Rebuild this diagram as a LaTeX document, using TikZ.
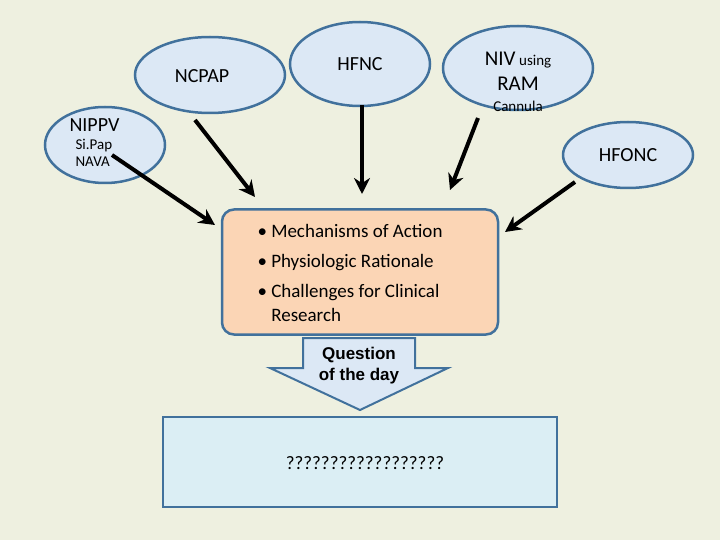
\documentclass[tikz,border=0pt]{standalone}
\usepackage{fontspec}
\setmainfont{Carlito}
\newfontfamily\arialf{Liberation Sans}
\usetikzlibrary{shapes.geometric,arrows.meta}
\definecolor{bg}{HTML}{EEF0E0}
\definecolor{ell}{HTML}{DCE8F5}
\definecolor{bord}{HTML}{41719C}
\definecolor{peach}{HTML}{FBD5B5}
\definecolor{lb}{HTML}{DBEEF4}
\begin{document}
\begin{tikzpicture}[x=1pt,y=-1pt,
 el/.style={ellipse,draw=bord,fill=ell,line width=2.5pt,inner sep=0pt},
 arr/.style={line width=4pt,-{Stealth[length=16pt,width=16pt]}},
 txt/.style={font=\fontsize{20}{22}\selectfont}]
\fill[bg] (0,0) rectangle (720,540);
\useasboundingbox (0,0) rectangle (720,540);
\node[el,minimum width=150,minimum height=76] (ncpap) at (210,75) {};
\node[txt] at (202,76) {NCPAP};
\node[el,minimum width=140,minimum height=84] (hfnc) at (360,64) {};
\node[txt] at (360,64) {HFNC};
\node[el,minimum width=150,minimum height=84] (niv) at (518,68) {};
\node[font=\fontsize{16}{18}\selectfont] at (518,60) {{\fontsize{21}{22}\selectfont NIV} {\fontsize{15}{16}\selectfont using}};
\node[font=\fontsize{21}{22}\selectfont] at (518,84) {RAM};
\node[font=\fontsize{15}{16}\selectfont] at (518,106) {Cannula};
\node[el,minimum width=120,minimum height=76] (nippv) at (105,145) {};
\node[txt,anchor=west] at (66,125) {NIPPV};
\node[font=\fontsize{15}{17}\selectfont,anchor=west,align=left] at (72,153) {Si.Pap\\NAVA};
\node[el,minimum width=130,minimum height=66] (hfonc) at (628,155) {};
\node[txt] at (628,155) {HFONC};
\node[draw=bord,fill=peach,line width=2.5pt,rounded corners=12pt,minimum width=276,minimum height=125] (box) at (360,272) {};
\node[font=\fontsize{19}{24}\selectfont,anchor=west,align=left] at (254,273) {\textbullet\ Mechanisms of Action\\[6pt]\textbullet\ Physiologic Rationale\\[6pt]\textbullet\ Challenges for Clinical\\\phantom{\textbullet\ }Research};
\draw[bord,fill=ell,line width=2pt] (303,338) -- (415,338) -- (415,368) -- (448,368) -- (360,410) -- (270,368) -- (303,368) -- cycle;
\node[font=\arialf\bfseries\fontsize{17}{21}\selectfont,align=center] at (359,366) {Question\\of the day};
\node[draw=bord,fill=lb,line width=2pt,minimum width=394,minimum height=90] (q) at (360,462) {};
\node[font=\fontsize{19}{21}\selectfont] at (365,463) {??????????????????};
\coordinate (a1) at (112,155); \coordinate (b1) at (215,225);
\coordinate (a2) at (195,120); \coordinate (b2) at (255,197);
\coordinate (a3) at (362,105); \coordinate (b3) at (362,194);
\coordinate (a4) at (478,118); \coordinate (b4) at (450,190);
\coordinate (a5) at (575,182); \coordinate (b5) at (505,232);
\draw[arr] (a1) -- (b1);
\draw[arr] (a2) -- (b2);
\draw[arr] (a3) -- (b3);
\draw[arr] (a4) -- (b4);
\draw[arr] (a5) -- (b5);
\end{tikzpicture}
\end{document}
